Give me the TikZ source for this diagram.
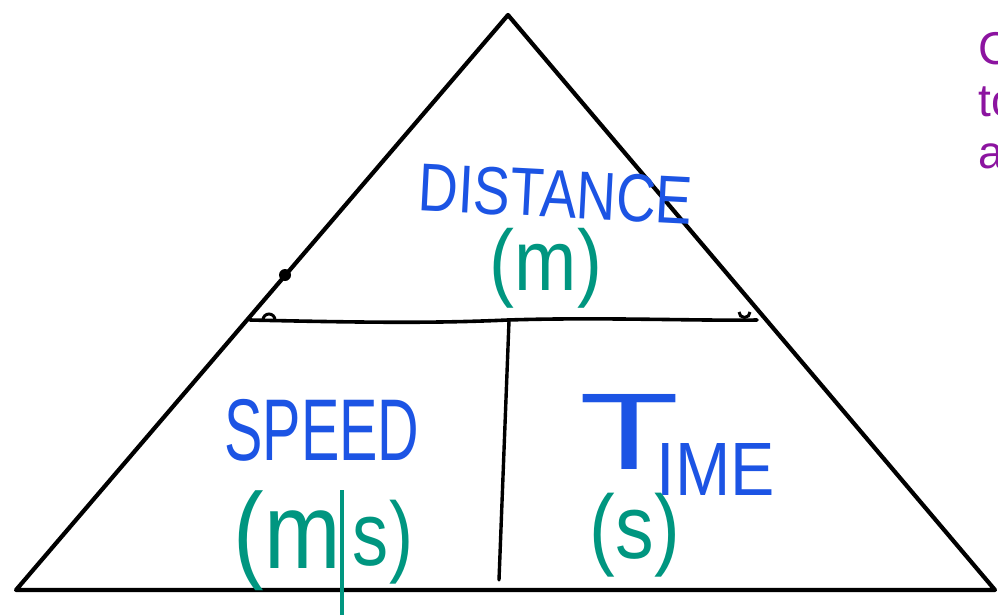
\documentclass[tikz,border=0pt]{standalone}
\usepackage{fontspec}
\setmainfont{Liberation Sans}
\usepackage{graphicx}
\definecolor{inkblue}{RGB}{28,84,228}
\definecolor{inkgreen}{RGB}{0,150,128}
\definecolor{inkpurple}{RGB}{140,20,160}
\newcommand{\hwbox}[3]{\resizebox*{#1pt}{#2pt}{#3}}
\tikzset{
  edge/.style={line width=4.2pt, line join=round, line cap=round, black},
  blueword/.style={inkblue, inner sep=0pt, anchor=center},
  greenword/.style={inkgreen, inner sep=0pt, anchor=center},
  note/.style={inkpurple, inner sep=0pt, anchor=north west, align=left,
    font=\fontsize{46}{52}\selectfont}
}
\begin{document}
\begin{tikzpicture}[x=1pt, y={(0pt,-1pt)}]
\clip (0,0) rectangle (998,615);
\fill[white] (0,0) rectangle (998,615);
% vertices
\coordinate (apex) at (508,15);
\coordinate (bl) at (16,590);
\coordinate (br) at (995,590);
\coordinate (hl) at (250,320);
\coordinate (hr) at (757,320);
\coordinate (vt) at (509,321);
\coordinate (vb) at (499,580);
% triangle
\draw[edge] (bl) -- (apex) -- (br) -- cycle;
% horizontal divider
\draw[edge, line width=3.6pt] (hl) .. controls (380,323) and (440,323) .. (508,320)
   .. controls (600,317) and (700,321) .. (hr);
% vertical divider
\draw[edge, line width=3.4pt] (vt) -- (vb);
% small marks
\fill (285,275) circle (6pt);
\draw[line width=3pt] (263,320) arc (180:0:6pt);
\draw[line width=3pt] (739,312) arc (180:360:5.5pt);
% texts
\node[blueword, rotate=-3] (dist) at (556,194) {\hwbox{274}{48}{DISTANCE}};
\node[greenword] (distu) at (546,268) {\hwbox{112}{80}{(m)}};
\node[blueword] (speed) at (322,430) {\hwbox{195}{62}{SPEED}};
\node[greenword] (speedu1) at (287,541) {\hwbox{107}{100}{(m}};
\node[greenword] (speedu2) at (383,542) {\hwbox{60}{84}{s)}};
\coordinate (slt) at (342,490);
\coordinate (slb) at (342,615);
\draw[inkgreen, line width=4pt] (slt) -- (slb);
\node[blueword] (timeT) at (630,432) {\hwbox{100}{75}{T}};
\node[blueword] (timeR) at (716,469) {\hwbox{118}{52}{IME}};
\node[greenword] (timeu) at (635,535) {\hwbox{90}{84}{(s)}};
\node[note] (cover) at (978,32) {C\\to\\a};
\end{tikzpicture}
\end{document}
